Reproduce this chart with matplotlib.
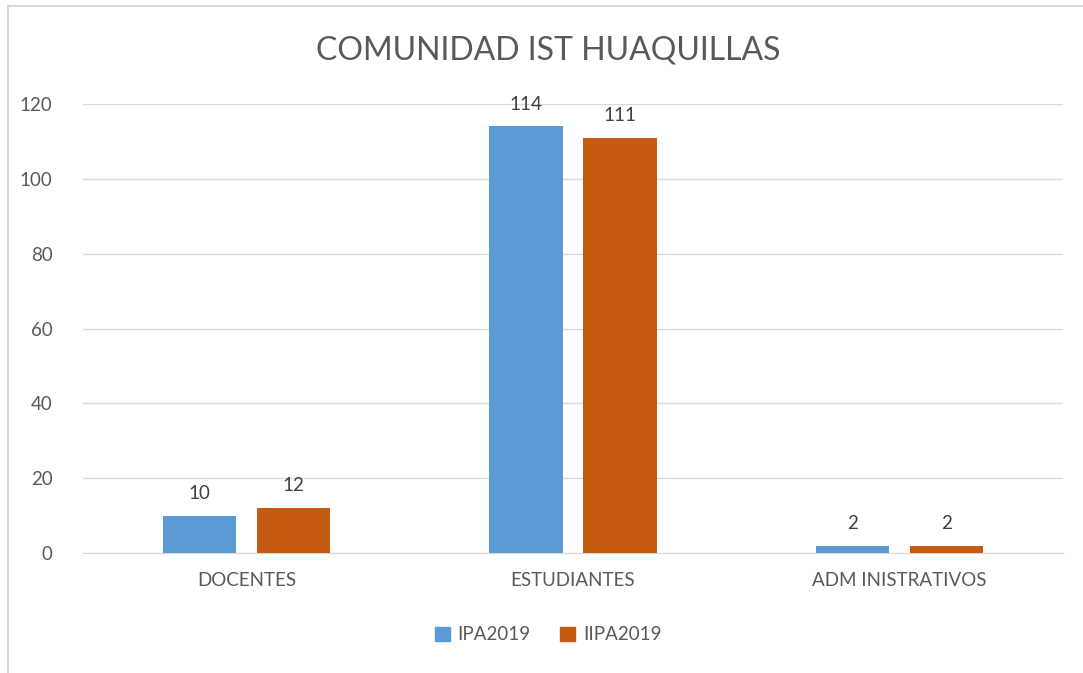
import matplotlib
matplotlib.use("Agg")
import matplotlib.pyplot as plt
import numpy as np
from matplotlib.lines import Line2D

categories = ["DOCENTES", "ESTUDIANTES", "ADM INISTRATIVOS"]
series_names = ["IPA2019", "IIPA2019"]
ipa2019 = [10, 114, 2]
iipa2019 = [12, 111, 2]
yticks = [0, 20, 40, 60, 80, 100, 120]
title = "COMUNIDAD IST HUAQUILLAS"

colors = ["#5B9BD5", "#C55A11"]
plt.rcParams['font.family'] = ['Lato', 'DejaVu Sans']

fig = plt.figure(figsize=(10.83, 6.73), dpi=100)
ax = fig.add_axes([83/1083, 1-553/673, (1063-83)/1083, (553-104)/673])

x = np.arange(len(categories))
w = 0.225
off = 0.144
for vals, c, name, o in [(ipa2019, colors[0], series_names[0], -off),
                         (iipa2019, colors[1], series_names[1], off)]:
    bars = ax.bar(x + o, vals, w, color=c, label=name, zorder=3)
    for b, v in zip(bars, vals):
        ax.annotate(str(v), (b.get_x() + b.get_width()/2, v), xytext=(0, 10),
                    textcoords="offset points", ha="center", va="bottom",
                    fontsize=13.5, color="#404040")

ax.set_xlim(-0.5, 2.5)
ax.set_ylim(0, 120)
ax.set_yticks(yticks)
ax.set_xticks(x)
ax.set_xticklabels(categories)
ax.tick_params(axis='both', length=0, labelsize=13.5, labelcolor="#595959")
ax.tick_params(axis='y', pad=22)
ax.tick_params(axis='x', pad=14)
for s in ["top", "right", "left"]:
    ax.spines[s].set_visible(False)
ax.spines["bottom"].set_color("#D9D9D9")
ax.grid(axis='y', color="#D9D9D9", linewidth=1, zorder=0)
ax.set_axisbelow(True)

fig.text(548/1083, 1-50/673, title, ha="center", va="center", fontsize=23,
         color="#595959")

handles = [plt.Rectangle((0, 0), 1, 1, color=c) for c in colors]
fig.legend(handles, series_names, loc="center", bbox_to_anchor=(548/1083, 1-635/673),
           ncol=2, frameon=False, fontsize=13.5, labelcolor="#595959",
           handlelength=0.8, handleheight=0.8, handletextpad=0.4, columnspacing=1.6)

# outer chart border (top and left visible)
fig.add_artist(Line2D([8/1083, 1], [1-6/673, 1-6/673], color="#D9D9D9", linewidth=1.5,
                      transform=fig.transFigure))
fig.add_artist(Line2D([8/1083, 8/1083], [0, 1-6/673], color="#D9D9D9", linewidth=1.5,
                      transform=fig.transFigure))

fig.savefig("out.png", dpi=100)
